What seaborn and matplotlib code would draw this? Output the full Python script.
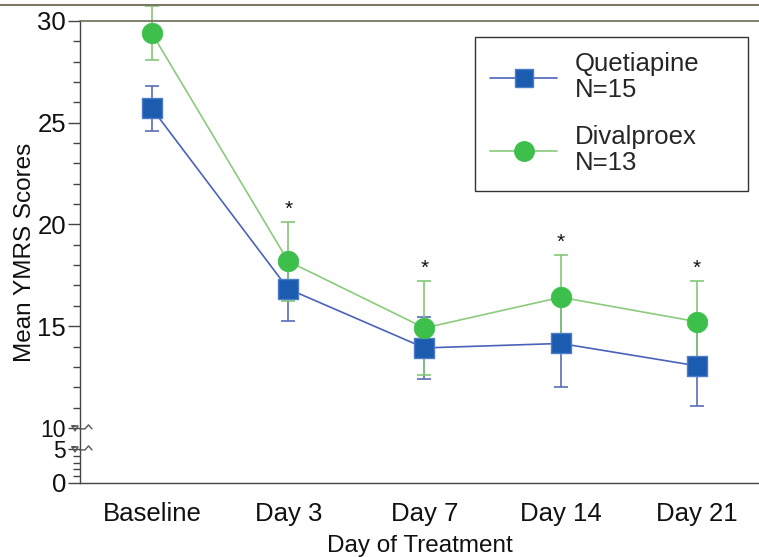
import numpy as np
import pandas as pd
import matplotlib
matplotlib.use("Agg")
import matplotlib.pyplot as plt
import seaborn as sns
from matplotlib.lines import Line2D

days = ["Baseline", "Day 3", "Day 7", "Day 14", "Day 21"]
quet_mean = [25.70, 16.83, 13.93, 14.15, 13.05]
quet_se = [1.09, 1.56, 1.54, 2.16, 1.98]
dival_mean = [29.39, 18.19, 14.91, 16.42, 15.22]
dival_se = [1.33, 1.93, 2.30, 2.10, 2.02]
star_days = ["Day 3", "Day 7", "Day 14", "Day 21"]
legend_labels = ["Quetiapine\nN=15", "Divalproex\nN=13"]
yticks_major = [0, 5, 10, 15, 20, 25, 30]

sns.set_theme(style="white")
plt.rcParams["font.family"] = ["Liberation Sans", "DejaVu Sans"]

df = pd.DataFrame({
    "day": days * 2,
    "mean": quet_mean + dival_mean,
    "se": quet_se + dival_se,
    "group": ["Quetiapine"] * 5 + ["Divalproex"] * 5,
})

fig = plt.figure(figsize=(7.59, 5.57), dpi=100)
W, H = 759, 557
ax = fig.add_axes([80 / W, (H - 483) / H, 1 - 80 / W, (483 - 21) / H])

# broken y scale: 0-5 compressed, 5-10 break, 10-30 linear
vpts = np.array([-100, 0, 5, 10, 30, 100], dtype=float)
ppts = np.array([-680, 0, 34, 55, 461, 461 + 70 * 20.3], dtype=float)
def fwd(v):
    return np.interp(v, vpts, ppts)
def inv(p):
    return np.interp(p, ppts, vpts)
ax.set_yscale("function", functions=(fwd, inv))

blue_mk, blue_edge, blue_ln = "#1b5bb0", "#4d7dc9", "#4a62b9"
green_mk, green_ln = "#3dbf4c", "#8acb7c"

q = df[df.group == "Quetiapine"]
d = df[df.group == "Divalproex"]
ax.errorbar(q["day"], q["mean"], yerr=q["se"], fmt="none", ecolor="#5a6cb6",
            elinewidth=1.2, capsize=5, capthick=1.2, zorder=2, clip_on=False)
ax.errorbar(d["day"], d["mean"], yerr=d["se"], fmt="none", ecolor="#85c777",
            elinewidth=1.2, capsize=5, capthick=1.2, zorder=2, clip_on=False)

sns.lineplot(data=df, x="day", y="mean", hue="group", sort=False,
             palette={"Quetiapine": blue_ln, "Divalproex": green_ln},
             linewidth=1.2, legend=False, ax=ax, zorder=3)
sns.scatterplot(data=q, x="day", y="mean", marker="s", s=190, color=blue_mk,
                edgecolor=blue_edge, linewidth=1.0, ax=ax, zorder=4, legend=False)
sns.scatterplot(data=d, x="day", y="mean", marker="o", s=220, color=green_mk,
                edgecolor=green_mk, linewidth=0.5, ax=ax, zorder=4, legend=False)

for day in star_days:
    i = days.index(day)
    top = dival_mean[i] + dival_se[i]
    ax.text(i, top + 0.15, "*", ha="center", va="bottom", fontsize=15, color="#111111")

FS = 18.5
ax.set_xlim(-0.528, 4.455)
ax.set_ylim(0, 30)
ax.set_yticks(yticks_major)
ax.set_yticks([1, 2, 3, 4] + [v for v in range(11, 30) if v % 5], minor=True)
ax.set_yticklabels([str(v) for v in yticks_major], fontsize=FS)
for lab in ax.get_yticklabels():
    if lab.get_text() in ("5", "10"):
        lab.set_fontsize(16.5)
ax.set_xticks([0.5, 1.5, 2.5, 3.5])
ax.set_xticklabels([])
ax.set_xticks(range(len(days)), minor=True)
ax.set_xticklabels(days, minor=True, fontsize=FS)
ax.tick_params(axis="x", which="minor", length=0, pad=14)
ax.tick_params(axis="x", which="major", length=6, width=1, color="#444444", direction="out")
ax.tick_params(axis="y", which="major", length=9, width=1, color="#444444", pad=1, direction="out", left=True)
ax.tick_params(axis="y", which="minor", length=5, width=1, color="#444444", direction="out", left=True)
ax.tick_params(which="both", labelcolor="#111111")

ax.set_xlabel("Day of Treatment", fontsize=17.5, color="#111111", labelpad=6)
ax.set_ylabel("Mean YMRS Scores", fontsize=17.5, color="#111111", labelpad=1)

for s in ["left", "bottom"]:
    ax.spines[s].set_visible(True)
    ax.spines[s].set_color("#444444")
    ax.spines[s].set_linewidth(1.0)
ax.spines["right"].set_visible(False)
ax.spines["top"].set_color("#6e685a")
ax.spines["top"].set_linewidth(1.2)

handles = [
    Line2D([0], [0], color=blue_ln, lw=1.2, marker="s", markersize=13,
           markerfacecolor=blue_mk, markeredgecolor=blue_edge),
    Line2D([0], [0], color=green_ln, lw=1.2, marker="o", markersize=14,
           markerfacecolor=green_mk, markeredgecolor=green_mk),
]
leg = ax.legend(handles, legend_labels, loc="upper left", mode="expand",
                bbox_to_anchor=(475 / W, 1 - 187 / H, 273 / W, 150 / H),
                bbox_transform=fig.transFigure,
                borderaxespad=0, fontsize=FS, frameon=True, fancybox=False,
                handlelength=2.6, labelspacing=0.9, borderpad=0.6, handletextpad=0.7,
                edgecolor="#333333", framealpha=1)
leg.get_frame().set_linewidth(1.0)
for t in leg.get_texts():
    t.set_linespacing(1.1)

fig.add_artist(Line2D([0, 1], [1 - 5 / H, 1 - 5 / H], transform=fig.transFigure,
                      color="#7d7766", lw=1.5))

fig.canvas.draw()
for v in [10, 5]:
    x0, y0 = ax.transData.transform((-0.528, v))
    xs = np.array([-8, -2, -5, -8, -5, 0, 5, 8.5, 12])
    ys = np.array([2, 2, -3, 2, 2, -1, -1, 3, -1])
    fig.add_artist(Line2D(x0 + xs[:5], y0 + ys[:5], transform=None, color="#555555", lw=1.0))
    fig.add_artist(Line2D(x0 + xs[5:], y0 + ys[5:], transform=None, color="#555555", lw=1.0))

fig.savefig("out.png", dpi=100)
